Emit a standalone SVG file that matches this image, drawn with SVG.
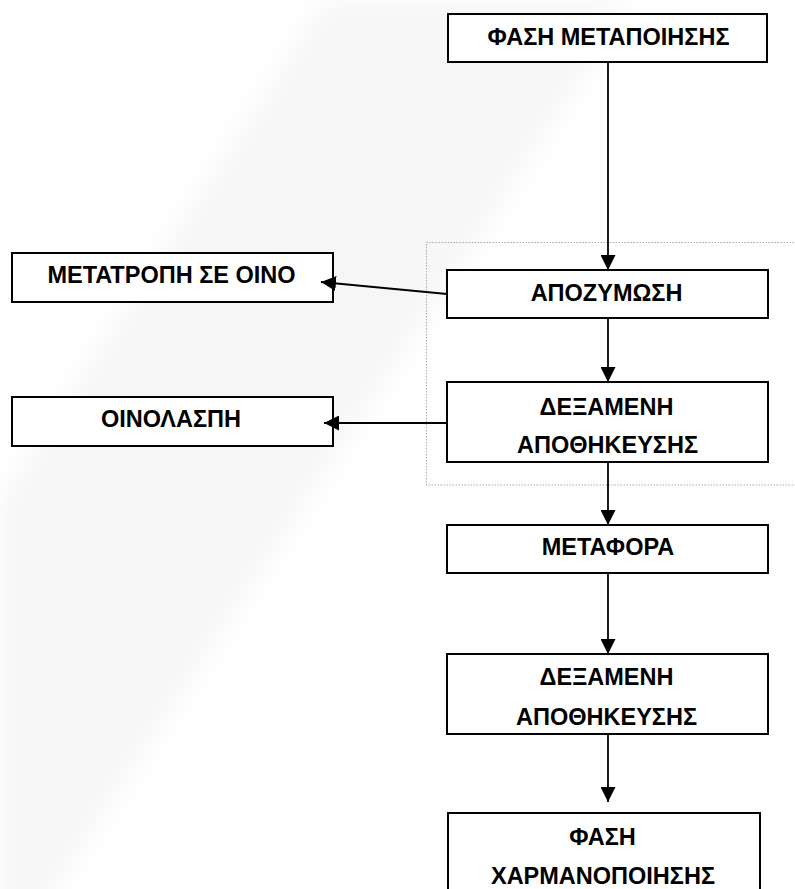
<svg xmlns="http://www.w3.org/2000/svg" width="795" height="889" viewBox="0 0 795 889">
  <style>
    .box { fill: #ffffff; stroke: #000000; stroke-width: 2; }
    .lbl { font-family: "Liberation Sans", Arial, sans-serif; font-weight: bold; font-size: 23.5px; fill: #000000; text-anchor: middle; }
    .wire { stroke: #000000; stroke-width: 1.8; fill: none; marker-end: url(#arrow); }
    .frame { fill: none; stroke: #a8a8a8; stroke-width: 1; stroke-dasharray: 1.5 1.5; }
  </style>
  <defs>
    <marker id="arrow" markerUnits="userSpaceOnUse" markerWidth="16" markerHeight="15" refX="15" refY="7.5" orient="auto">
      <path d="M0,0 L15,7.5 L0,15 Z" fill="#000000"/>
    </marker>
    <filter id="soft" x="-20%" y="-20%" width="140%" height="140%">
      <feGaussianBlur stdDeviation="14"/>
    </filter>
  </defs>

  <rect width="795" height="889" fill="#ffffff"/>

  <!-- faint diagonal background haze -->
  <polygon points="324,0 634,0 0,976 0,499" fill="#000000" opacity="0.03" filter="url(#soft)"/>

  <!-- dotted grouping frame around the fermentation stage -->
  <g id="frame-fermentation">
    <rect class="frame" x="426.5" y="242.5" width="380" height="242.5"/>
  </g>

  <!-- process steps -->
  <g id="node-processing">
    <rect class="box" x="448" y="14" width="319" height="48"/>
    <text class="lbl" x="608.5" y="45">ΦΑΣΗ ΜΕΤΑΠΟΙΗΣΗΣ</text>
  </g>

  <g id="node-fermentation">
    <rect class="box" x="447" y="270" width="321" height="48"/>
    <text class="lbl" x="606.5" y="301">ΑΠΟΖΥΜΩΣΗ</text>
  </g>

  <g id="node-wine">
    <rect class="box" x="12" y="253" width="321" height="49"/>
    <text class="lbl" x="171.5" y="283">ΜΕΤΑΤΡΟΠΗ ΣΕ ΟΙΝΟ</text>
  </g>

  <g id="node-tank-1">
    <rect class="box" x="447" y="382" width="321" height="80"/>
    <text class="lbl" x="606.5" y="415">ΔΕΞΑΜΕΝΗ</text>
    <text class="lbl" x="607.5" y="453">ΑΠΟΘΗΚΕΥΣΗΣ</text>
  </g>

  <g id="node-lees">
    <rect class="box" x="12" y="397" width="321" height="49"/>
    <text class="lbl" x="171" y="427">ΟΙΝΟΛΑΣΠΗ</text>
  </g>

  <g id="node-transport">
    <rect class="box" x="447" y="525" width="321" height="48"/>
    <text class="lbl" x="608" y="555">ΜΕΤΑΦΟΡΑ</text>
  </g>

  <g id="node-tank-2">
    <rect class="box" x="447" y="654" width="321" height="80"/>
    <text class="lbl" x="606.5" y="685">ΔΕΞΑΜΕΝΗ</text>
    <text class="lbl" x="606.5" y="725">ΑΠΟΘΗΚΕΥΣΗΣ</text>
  </g>

  <g id="node-blending">
    <rect class="box" x="448" y="813" width="312" height="100"/>
    <text class="lbl" x="602.5" y="845">ΦΑΣΗ</text>
    <text class="lbl" x="603" y="884">ΧΑΡΜΑΝΟΠΟΙΗΣΗΣ</text>
  </g>

  <!-- connectors, drawn last so arrowheads sit on top of the boxes -->
  <g id="connectors">
    <line class="wire" x1="608" y1="62" x2="608" y2="270"/>
    <line class="wire" x1="608" y1="318" x2="608" y2="382"/>
    <line class="wire" x1="608" y1="462" x2="608" y2="525"/>
    <line class="wire" x1="608" y1="573" x2="608" y2="654"/>
    <line class="wire" x1="608" y1="734" x2="608" y2="802"/>
    <line class="wire" x1="447" y1="294" x2="321" y2="282"/>
    <line class="wire" x1="447" y1="423" x2="324" y2="423"/>
  </g>
</svg>
